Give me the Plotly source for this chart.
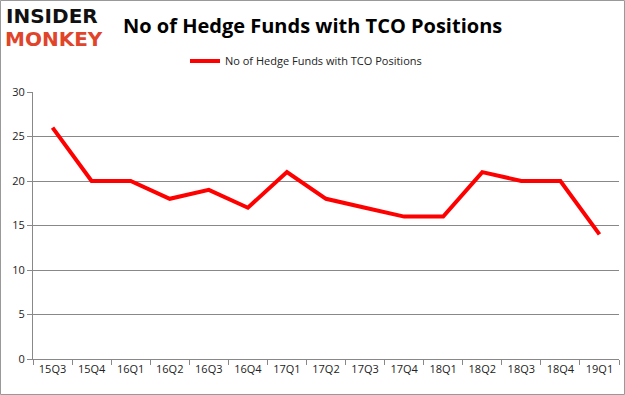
import plotly.graph_objects as go

quarters = ["15Q3","15Q4","16Q1","16Q2","16Q3","16Q4","17Q1","17Q2","17Q3","17Q4","18Q1","18Q2","18Q3","18Q4","19Q1"]
funds = [26,20,20,18,19,17,21,18,17,16,16,21,20,20,14]
y_ticks = [0,5,10,15,20,25,30]

W, H = 625, 395
L, R, T, B = 33, 6, 92, 36
pw, ph = W - L - R, H - T - B

def py(yp):
    return (H - B - yp) / ph

def px(xp):
    return (xp - L) / pw

fig = go.Figure()
fig.add_trace(go.Scatter(
    x=quarters, y=funds, mode="lines",
    line=dict(color="#ff0000", width=4),
    name="No of Hedge Funds with TCO Positions",
))

fig.update_layout(
    width=W, height=H,
    margin=dict(l=L, r=R, t=T, b=B),
    paper_bgcolor="white", plot_bgcolor="white",
    font=dict(family="Open Sans, Calibri, Arial", color="#222", size=11),
    showlegend=True,
    legend=dict(orientation="h", x=px(306), xanchor="center", y=py(61), yanchor="middle",
                font=dict(size=11, color="#222"), bgcolor="rgba(0,0,0,0)"),
    xaxis=dict(type="category", showgrid=False, showline=True, linecolor="#888",
               ticks="outside", tickson="boundaries", ticklen=5, tickcolor="#888",
               tickfont=dict(size=11, color="#222"), range=[-0.5, 14.5], automargin=False),
    yaxis=dict(range=[0, 30], tickvals=y_ticks, showgrid=True, gridcolor="#888",
               gridwidth=1, showline=True, linecolor="#888", ticks="outside",
               ticklen=5, tickcolor="#888", tickfont=dict(size=11, color="#222"),
               zeroline=False, automargin=False),
)

fig.add_annotation(text="<b>No of Hedge Funds with TCO Positions</b>", xref="paper", yref="paper",
                   x=px(312), y=py(25), xanchor="center", yanchor="middle",
                   showarrow=False, font=dict(size=20, color="#000", family="Open Sans, Calibri, Arial"))
fig.add_annotation(text="<b>INSIDER</b>", xref="paper", yref="paper",
                   x=px(4), y=py(16), xanchor="left", yanchor="middle",
                   showarrow=False, font=dict(size=20, color="#111", family="DejaVu Sans"))
fig.add_annotation(text="<b>MONKEY</b>", xref="paper", yref="paper",
                   x=px(3), y=py(39), xanchor="left", yanchor="middle",
                   showarrow=False, font=dict(size=20, color="#e0452b", family="DejaVu Sans"))

fig.add_shape(type="rect", xref="paper", yref="paper",
              x0=px(0.5), x1=px(W - 0.5), y0=py(H - 0.5), y1=py(0.5),
              line=dict(color="#999", width=1), layer="below")

fig.write_html("out.html", config={"displayModeBar": False},
               post_script="document.body.style.margin='0';document.body.style.overflow='hidden';")
